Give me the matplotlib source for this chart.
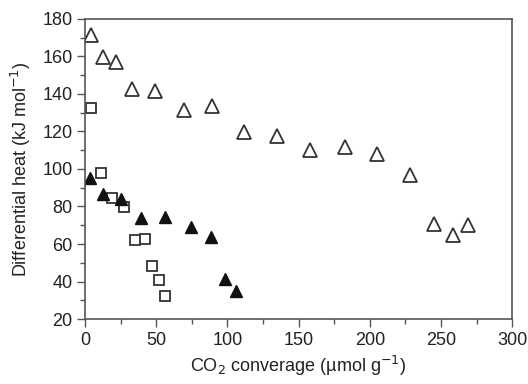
import matplotlib
matplotlib.use("Agg")
import matplotlib.pyplot as plt
from matplotlib.ticker import MultipleLocator

plt.rcParams['font.family'] = ['Liberation Sans', 'DejaVu Sans']

open_tri_x = [4, 12.4, 21.8, 33, 49.2, 69.3, 89.2, 111.5, 134.9, 158, 182.9, 205, 227.9, 245, 258.6, 269.3]
open_tri_y = [171.5, 159.4, 157, 142.5, 141.8, 131.3, 133.6, 119.7, 117.4, 110, 111.9, 108, 96.6, 70.7, 64.8, 70.1]

open_sq_x = [4.2, 11, 18.7, 27.2, 35.4, 42.4, 47.1, 51.8, 56]
open_sq_y = [132.7, 98, 84.4, 79.6, 62.1, 62.8, 48.3, 40.8, 32.4]

fill_tri_x = [3.5, 12.4, 25.5, 39.1, 56, 74.5, 88.8, 98.6, 105.9]
fill_tri_y = [95.4, 86.5, 83.8, 74, 74.6, 68.9, 63.9, 41.2, 35]

fig = plt.figure(figsize=(5.28, 3.84), dpi=100)
ax = fig.add_axes([0.161, 0.169, 0.809, 0.782])

ax.plot(open_tri_x, open_tri_y, linestyle='none', marker='^', markersize=9.5,
        markerfacecolor='white', markeredgecolor='#333333', markeredgewidth=1.3)
ax.plot(open_sq_x, open_sq_y, linestyle='none', marker='s', markersize=7.5,
        markerfacecolor='white', markeredgecolor='#333333', markeredgewidth=1.3)
ax.plot(fill_tri_x, fill_tri_y, linestyle='none', marker='^', markersize=8,
        markerfacecolor='#111111', markeredgecolor='#111111', markeredgewidth=1.0)

ax.set_xlim(0, 300)
ax.set_ylim(20, 180)
ax.xaxis.set_major_locator(MultipleLocator(50))
ax.xaxis.set_minor_locator(MultipleLocator(25))
ax.yaxis.set_major_locator(MultipleLocator(20))
ax.yaxis.set_minor_locator(MultipleLocator(10))

ax.tick_params(axis='both', which='major', direction='out', length=6, width=1, labelsize=13,
               colors='#555555', labelcolor='#222222', pad=3)
ax.tick_params(axis='both', which='minor', direction='out', length=3.5, width=1, colors='#555555')

for s in ax.spines.values():
    s.set_color('#555555')
    s.set_linewidth(1.2)

ax.set_xlabel('CO$_2$ converage (µmol g$^{-1}$)', fontsize=13, color='#222222', labelpad=4)
ax.set_ylabel('Differential heat (kJ mol$^{-1}$)', fontsize=13, color='#222222', labelpad=7)

fig.savefig('out.png', dpi=100)
